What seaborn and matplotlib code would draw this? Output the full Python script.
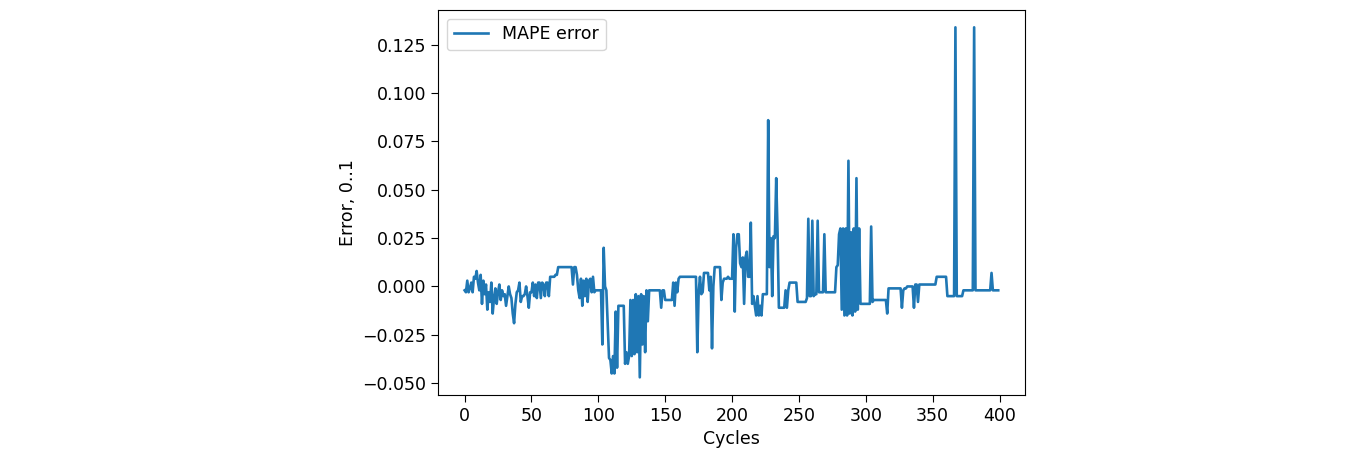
import numpy as np
import matplotlib
matplotlib.use("Agg")
import matplotlib.pyplot as plt
import seaborn as sns

# MAPE error per cycle
err_000 = [-0.002, -0.003, 0.003, -0.003, -0.001, 0.002, -0.003, 0.005, 0.004, 0.008,
           0.002, -0.002, 0.006, -0.009, 0.003, -0.004, 0.001, -0.012, -0.003, -0.008]
err_020 = [0.002, -0.014, -0.006, -0.001, -0.009, -0.003, 0.001, -0.007, -0.002, -0.005,
           -0.004, -0.010, -0.005, 0.000, -0.004, -0.006, -0.014, -0.019, -0.009, -0.003]
err_040 = [-0.002, 0.002, -0.008, -0.005, -0.005, -0.004, 0.000, -0.005, -0.011, -0.003,
           -0.003, 0.002, -0.005, 0.001, -0.006, 0.002, 0.002, -0.006, 0.002, 0.001]
err_060 = [-0.005, 0.002, 0.002, -0.005, 0.005, 0.005, 0.005, 0.005, 0.006, 0.006,
           0.010, 0.010, 0.010, 0.010, 0.010, 0.010, 0.010, 0.010, 0.010, 0.010]
err_080 = [0.010, 0.001, 0.010, 0.010, 0.006, -0.002, -0.006, 0.004, -0.010, 0.003,
           -0.005, 0.004, -0.008, 0.003, 0.004, -0.003, 0.005, -0.003, -0.002, -0.002]
err_100 = [-0.002, -0.002, -0.002, -0.030, 0.020, 0.000, -0.002, -0.020, -0.037, -0.038,
           -0.045, -0.036, -0.045, -0.013, -0.042, -0.010, -0.010, -0.010, -0.010, -0.010]
err_120 = [-0.040, -0.034, -0.040, -0.036, -0.007, -0.036, -0.007, -0.035, -0.004, -0.034,
           -0.005, -0.047, -0.004, -0.030, -0.005, -0.034, -0.002, -0.018, -0.002, -0.002]
err_140 = [-0.002, -0.002, -0.002, -0.002, -0.002, -0.002, -0.002, -0.011, -0.002, -0.002,
           -0.007, -0.007, -0.007, -0.007, -0.007, -0.007, 0.002, -0.010, 0.002, -0.003]
err_160 = [0.004, 0.005, 0.005, 0.005, 0.005, 0.005, 0.005, 0.005, 0.005, 0.005,
           0.005, 0.005, 0.005, 0.005, -0.034, -0.003, 0.005, -0.004, -0.003, 0.007]
err_180 = [0.007, 0.007, 0.007, -0.002, 0.005, -0.032, 0.000, 0.010, 0.010, 0.010,
           0.010, 0.010, -0.007, 0.002, 0.004, 0.004, 0.004, 0.005, 0.004, 0.004]
err_200 = [0.004, 0.027, -0.013, 0.020, 0.027, 0.027, 0.012, 0.010, 0.015, -0.009,
           0.015, 0.018, 0.005, 0.005, 0.033, -0.009, -0.005, -0.010, -0.015, -0.005]
err_220 = [-0.015, -0.010, -0.015, -0.004, -0.004, -0.004, -0.004, 0.086, 0.010, 0.025,
           -0.005, 0.026, 0.025, 0.056, 0.028, -0.011, -0.011, -0.011, -0.011, -0.011]
err_240 = [-0.002, -0.011, -0.002, 0.002, 0.002, 0.002, 0.002, 0.002, 0.002, -0.008,
           -0.008, -0.008, -0.008, -0.008, -0.008, -0.008, -0.006, 0.035, -0.005, -0.005]
err_260 = [0.034, -0.005, -0.004, -0.004, 0.034, -0.003, -0.003, -0.003, -0.003, 0.027,
           -0.003, -0.003, -0.003, -0.003, -0.003, -0.003, -0.003, -0.003, 0.010, 0.011]
err_280 = [0.027, 0.030, -0.012, 0.030, -0.015, 0.030, -0.015, 0.065, -0.014, 0.028,
           -0.015, 0.030, -0.013, 0.056, -0.012, 0.030, -0.009, -0.009, -0.009, -0.009]
err_300 = [-0.009, -0.009, -0.009, -0.009, 0.031, -0.008, -0.007, -0.007, -0.007, -0.007,
           -0.007, -0.007, -0.007, -0.007, -0.007, -0.007, -0.014, -0.001, -0.001, -0.001]
err_320 = [-0.001, -0.001, -0.001, -0.001, -0.001, -0.001, -0.001, -0.011, -0.002, -0.001,
           -0.001, 0.000, 0.000, 0.000, 0.000, 0.000, -0.011, 0.001, 0.001, -0.008]
err_340 = [0.001, 0.001, 0.001, 0.001, 0.001, 0.001, 0.001, 0.001, 0.001, 0.001,
           0.001, 0.001, 0.001, 0.005, 0.005, 0.005, 0.005, 0.005, 0.005, 0.005]
err_360 = [0.005, -0.005, -0.005, -0.005, -0.005, -0.005, -0.005, 0.134, -0.005, -0.005,
           -0.005, -0.005, -0.005, -0.002, -0.002, -0.002, -0.002, -0.002, -0.002, -0.002]
err_380 = [-0.002, 0.134, -0.002, -0.002, -0.002, -0.002, -0.002, -0.002, -0.002, -0.002,
           -0.002, -0.002, -0.002, -0.002, 0.007, -0.002, -0.002, -0.002, -0.002, -0.002]

errors = (err_000 + err_020 + err_040 + err_060 + err_080 + err_100 + err_120
          + err_140 + err_160 + err_180 + err_200 + err_220 + err_240 + err_260
          + err_280 + err_300 + err_320 + err_340 + err_360 + err_380)
cycles = np.arange(len(errors))

plt.rcParams['font.size'] = 12.5
plt.rcParams['xtick.major.size'] = 5
plt.rcParams['ytick.major.size'] = 5

fig = plt.figure(figsize=(13.6, 4.57), dpi=100)
ax = fig.add_axes([0.322, 0.136, 0.4316, 0.8425])

sns.lineplot(x=cycles, y=errors, ax=ax, color='#1f77b4', linewidth=1.9, label='MAPE error')

ax.set_xticks([0, 50, 100, 150, 200, 250, 300, 350, 400])
ax.set_yticks([-0.050, -0.025, 0.000, 0.025, 0.050, 0.075, 0.100, 0.125])
ax.set_xlabel('Cycles')
ax.set_ylabel('Error, 0..1')
ax.legend(loc='upper left')

fig.savefig('out.png', dpi=100)
